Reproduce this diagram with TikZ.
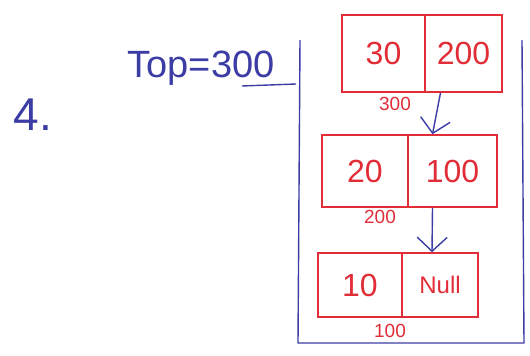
\documentclass[tikz,border=0pt]{standalone}
\usepackage{fontspec}
\setmainfont{Liberation Sans}
\usetikzlibrary{arrows.meta}
\definecolor{pen}{RGB}{60,60,165}
\definecolor{redpen}{RGB}{225,45,55}
\begin{document}
\begin{tikzpicture}[x=1pt,y=1pt,
  cell/.style={draw=redpen, line width=1.6pt, text=redpen, inner sep=0pt, font=\fontsize{32}{32}\selectfont},
  addr/.style={text=redpen, inner sep=0pt, font=\fontsize{19}{19}\selectfont},
  bluetext/.style={text=pen, inner sep=0pt},
  parr/.style={draw=pen, line width=1.4pt, -{Straight Barb[length=14pt,width=30pt,line width=1.4pt]}},
  wall/.style={draw=pen, line width=1.4pt}]
\useasboundingbox (0,0) rectangle (530,-356);
% stack container
\coordinate (tl) at (300,-40);
\coordinate (bl) at (298,-343);
\coordinate (br) at (524,-343);
\coordinate (tr) at (522,-40);
\draw[wall] (tl) -- (bl) -- (br) -- (tr);
% labels
\node[bluetext, font=\fontsize{46}{46}\selectfont] (four) at (33,-115) {4.};
\node[bluetext, font=\fontsize{38}{38}\selectfont] (top) at (201,-68) {Top=300};
\coordinate (u1) at (242,-86);
\coordinate (u2) at (296,-84);
\draw[wall] (u1) -- (u2);
% nodes
\node[cell, minimum width=83, minimum height=77] (n1a) at (383.5,-53.5) {30};
\node[cell, minimum width=77, minimum height=77] (n1b) at (463.5,-53.5) {200};
\node[addr] (l1) at (395,-104) {300};
\node[cell, minimum width=86, minimum height=72] (n2a) at (365,-171) {20};
\node[cell, minimum width=89, minimum height=72] (n2b) at (452.5,-171) {100};
\node[addr] (l2) at (380,-217) {200};
\node[cell, minimum width=84, minimum height=64] (n3a) at (360,-285) {10};
\node[cell, minimum width=76, minimum height=64, font=\fontsize{24}{24}\selectfont] (n3b) at (440,-285) {Null};
\node[addr] (l3) at (390,-331) {100};
% pointers
\draw[parr] ([xshift=-23pt]n1b.south) -- ([xshift=-20pt]n2b.north);
\draw[parr] ([xshift=-20pt]n2b.south) -- ([xshift=-8pt]n3b.north);
\end{tikzpicture}
\end{document}
